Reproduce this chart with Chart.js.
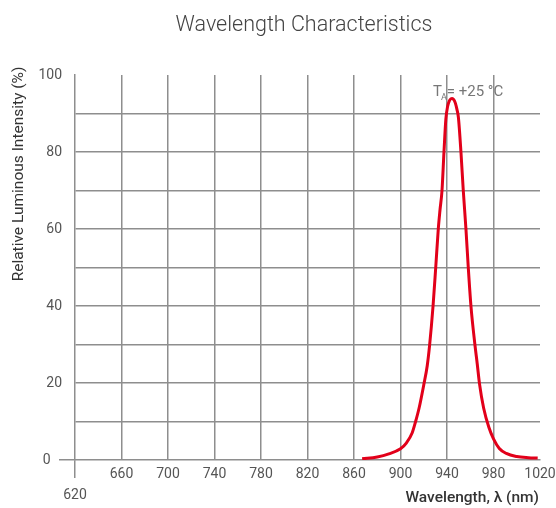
<!DOCTYPE html>
<html>
<head>
<meta charset="utf-8">
<script src="https://cdn.jsdelivr.net/npm/chart.js@4/dist/chart.umd.min.js"></script>
<style>
html,body{margin:0;padding:0;background:#fff;}
#wrap{width:556px;height:508px;}
</style>
</head>
<body>
<div id="wrap"><canvas id="c" width="556" height="508"></canvas></div>
<script>
// ---- data ----
const wavelengths = [867, 880, 890, 900, 905, 910, 913, 916, 920, 923, 925, 928, 930.3, 932.5, 934, 935.7, 937.4, 939, 940.5, 942, 943.3, 944.5, 945.8, 947.2, 948.6, 949.8, 952, 954, 956.3, 958.3, 960.6, 964, 966, 968, 971.5, 976, 980, 985, 991, 1000, 1010, 1018];
const intensity   = [0.3, 0.8, 1.6, 2.9, 4.4, 7, 10, 13.5, 19.5, 24.5, 29.7, 40, 50, 60, 65, 70, 80, 88.5, 91.8, 93.3, 93.8, 93.9, 93.6, 92.7, 91, 89, 80, 70, 60, 50, 40, 30, 25, 19.7, 13.5, 8.5, 5.5, 3, 1.7, 0.9, 0.6, 0.5];
const xTicks = [620, 660, 700, 740, 780, 820, 860, 900, 940, 980, 1020];
const yTickLabels = [0, 20, 40, 60, 80, 100];
const titleText = 'Wavelength Characteristics';
const xAxisTitle = 'Wavelength, \u03bb (nm)';
const yAxisTitle = 'Relative Luminous Intensity (%)';
const annotation = { main: 'T', sub: 'A', rest: '= +25 \u00b0C' };

const points = wavelengths.map((w, i) => ({ x: w, y: intensity[i] }));
const GRID = '#8e8e8e';
const FONT = 'Roboto';

const textPlugin = {
  id: 'texts',
  afterDraw(chart) {
    const ctx = chart.ctx;
    ctx.save();
    // title
    ctx.fillStyle = '#444';
    ctx.font = '300 21.5px ' + FONT;
    ctx.textAlign = 'center';
    ctx.textBaseline = 'alphabetic';
    ctx.fillText(titleText, 304, 31);
    // y axis title
    ctx.save();
    ctx.translate(19, 174);
    ctx.rotate(-Math.PI / 2);
    ctx.fillStyle = '#333';
    ctx.font = '400 15.5px ' + FONT;
    ctx.textAlign = 'center';
    ctx.textBaseline = 'middle';
    ctx.fillText(yAxisTitle, 0, 0);
    ctx.restore();
    // x axis title
    ctx.fillStyle = '#333';
    ctx.font = '500 15.5px ' + FONT;
    ctx.textAlign = 'right';
    ctx.textBaseline = 'alphabetic';
    ctx.fillText(xAxisTitle, 539, 502);
    // annotation
    ctx.fillStyle = '#777';
    ctx.textAlign = 'left';
    ctx.font = '15px ' + FONT;
    let x = 433;
    ctx.fillText(annotation.main, x, 96);
    x += ctx.measureText(annotation.main).width;
    ctx.font = '9px ' + FONT;
    ctx.fillText(annotation.sub, x - 1, 100);
    x += ctx.measureText(annotation.sub).width - 1;
    ctx.font = '15px ' + FONT;
    ctx.fillText(annotation.rest, x, 96);
    ctx.restore();
  }
};

new Chart(document.getElementById('c'), {
  type: 'line',
  data: {
    datasets: [{
      data: points,
      borderColor: '#e2001a',
      borderWidth: 3,
      pointRadius: 0,
      fill: false,
      cubicInterpolationMode: 'monotone'
    }]
  },
  options: {
    responsive: false,
    animation: false,
    layout: { padding: { left: 0, right: 16, top: 75, bottom: 0 } },
    plugins: { legend: { display: false }, title: { display: false }, tooltip: { enabled: false } },
    scales: {
      x: {
        type: 'linear',
        min: xTicks[0],
        max: xTicks[xTicks.length - 1],
        afterBuildTicks(scale) { scale.ticks = xTicks.map(v => ({ value: v })); },
        afterFit(scale) { scale.height = 48; },
        border: { color: GRID, width: 1.5 },
        grid: {
          color: c => (c.tick && c.tick.value > xTicks[0] && c.tick.value < xTicks[xTicks.length - 1]) ? GRID : 'rgba(0,0,0,0)',
          lineWidth: 1.5,
          drawTicks: true,
          tickLength: 18,
          tickColor: c => (c.tick && c.tick.value === xTicks[0]) ? GRID : 'rgba(0,0,0,0)',
          tickWidth: 1.5
        },
        ticks: {
          autoSkip: false,
          maxRotation: 0,
          padding: -14,
          color: '#555',
          font: { family: FONT, size: 14, lineHeight: 1.5 },
          callback: v => v === xTicks[0] ? ['', String(v)] : String(v)
        }
      },
      y: {
        min: 0,
        max: 100,
        afterBuildTicks(scale) {
          const t = [];
          for (let v = 0; v <= 100; v += 10) t.push({ value: v });
          scale.ticks = t;
        },
        afterFit(scale) { scale.width = 75; },
        border: { color: GRID, width: 1.5 },
        grid: {
          color: c => (c.tick && c.tick.value > 0 && c.tick.value < 100) ? GRID : 'rgba(0,0,0,0)',
          lineWidth: 1.5,
          drawTicks: true,
          tickLength: 16,
          tickColor: c => (c.tick && c.tick.value === 0) ? GRID : 'rgba(0,0,0,0)',
          tickWidth: 1.5
        },
        ticks: {
          autoSkip: false,
          padding: -3,
          color: '#555',
          font: { family: FONT, size: 14 },
          callback: v => yTickLabels.includes(v) ? (v === 0 ? '0\u2007 ' : String(v)) : ''
        }
      }
    }
  },
  plugins: [textPlugin]
});
</script>
</body>
</html>
